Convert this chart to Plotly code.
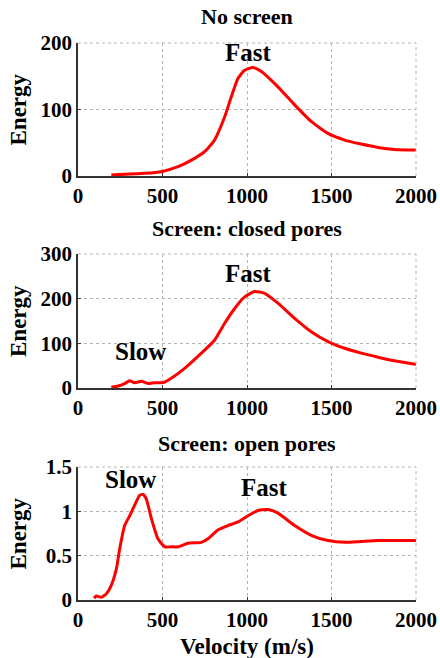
import plotly.graph_objects as go

# Panel 1: No screen
v1 = [197, 394, 493, 592, 690, 749, 808, 868, 907, 947, 986, 1035, 1085, 1183, 1282, 1380,
      1479, 1578, 1676, 1775, 1873, 2000]
e1 = [1.5, 4, 6.5, 14, 26.5, 36.6, 54, 89, 119, 147, 159, 163, 157, 134, 107, 82,
      64, 54, 48, 43, 40, 39]

# Panel 2: Screen, closed pores
v2 = [197, 237, 276, 306, 335, 375, 414, 454, 503, 552, 631, 730, 808, 868, 927, 986, 1045, 1104,
      1183, 1282, 1380, 1479, 1578, 1676, 1775, 1873, 2000]
e2 = [1.5, 4.5, 10, 16, 12, 15, 10, 12, 12, 22, 44, 78, 107, 145, 178, 204, 216, 212,
      190, 156, 126, 104, 89, 78, 69, 61, 53]

# Panel 3: Screen, open pores
v3 = [95, 108, 138, 168, 197, 227, 247, 276, 306, 335, 365, 385, 404, 434, 473, 513, 552, 592,
      651, 730, 769, 828, 887, 947, 1006, 1065, 1124, 1183, 1282, 1380, 1479, 1578, 1676, 1775, 2000]
e3 = [0.02, 0.045, 0.03, 0.07, 0.165, 0.35, 0.58, 0.84, 0.95, 1.07, 1.18, 1.19, 1.14, 0.92, 0.69, 0.6, 0.6, 0.6,
      0.64, 0.65, 0.69, 0.79, 0.84, 0.88, 0.95, 1.01, 1.02, 0.98, 0.84, 0.73, 0.67, 0.65, 0.66, 0.67, 0.67]

titles = ["No screen", "Screen: closed pores", "Screen: open pores"]
x_ticks = [0, 500, 1000, 1500, 2000]
y_ticks = [[0, 100, 200], [0, 100, 200, 300], [0, 0.5, 1, 1.5]]
y_ticklabels = [["0", "100", "200"], ["0", "100", "200", "300"], ["0", "0.5", "1", "1.5"]]
y_ranges = [[0, 200], [0, 300], [0, 1.5]]
peak_labels = [[("Fast", 1008, 186)], [("Fast", 1008, 257), ("Slow", 367, 82)],
               [("Slow", 308, 1.36), ("Fast", 1106, 1.27)]]

W, H = 440, 658
FONT = "Liberation Serif"
boxes = [(43, 176), (254, 388), (467, 600)]
x0, x1 = 78, 416
title_y = [16, 228, 443]

fig = go.Figure()
series = [(v1, e1), (v2, e2), (v3, e3)]
for i, (vx, ey) in enumerate(series):
    n = "" if i == 0 else str(i + 1)
    fig.add_trace(go.Scatter(x=vx, y=ey, mode="lines",
                             line=dict(color="#ff0000", width=3, shape="spline", smoothing=0.5),
                             xaxis="x" + n, yaxis="y" + n, showlegend=False))
    top, bot = boxes[i]
    common = dict(showgrid=True, gridcolor="#b4b4b4", griddash="dot", gridwidth=1, automargin=False,
                  showline=True, linecolor="#333333", linewidth=1.5, ticks="inside", ticklen=3,
                  tickcolor="#333333", zeroline=False,
                  tickfont=dict(family=FONT, size=21, color="black", weight="bold"))
    fig.update_layout(**{
        "xaxis" + n: dict(domain=[x0 / W, x1 / W], range=[0, 2000], tickvals=x_ticks,
                          anchor="y" + n, **common),
        "yaxis" + n: dict(domain=[1 - bot / H, 1 - top / H], range=y_ranges[i], tickvals=y_ticks[i],
                          ticktext=y_ticklabels[i], anchor="x" + n, **common),
    })
    fig.add_shape(type="line", xref="x" + n + " domain", yref="y" + n + " domain", x0=0, x1=1, y0=1, y1=1,
                  line=dict(color="#b4b4b4", width=1, dash="dot"))
    fig.add_shape(type="line", xref="x" + n + " domain", yref="y" + n + " domain", x0=1, x1=1, y0=0, y1=1,
                  line=dict(color="#b4b4b4", width=1, dash="dot"))
    fig.add_annotation(text=titles[i], xref="paper", yref="paper", x=(x0 + x1) / 2 / W, y=1 - title_y[i] / H,
                       showarrow=False, font=dict(family=FONT, size=22, color="black", weight="bold"),
                       xanchor="center", yanchor="middle")
    fig.add_annotation(text="Energy", xref="paper", yref="paper", x=18 / W, y=1 - (top + bot) / 2 / H,
                       textangle=-90, showarrow=False,
                       font=dict(family=FONT, size=23, color="black", weight="bold"),
                       xanchor="center", yanchor="middle")
    for (txt, px, py) in peak_labels[i]:
        fig.add_annotation(text=txt, x=px, y=py, xref="x" + n, yref="y" + n, showarrow=False,
                           font=dict(family=FONT, size=25, color="black", weight="bold"),
                           xanchor="center", yanchor="middle")

fig.add_annotation(text="Velocity (m/s)", xref="paper", yref="paper", x=(x0 + x1) / 2 / W, y=1 - 646 / H,
                   showarrow=False, font=dict(family=FONT, size=23, color="black", weight="bold"),
                   xanchor="center", yanchor="middle")

fig.update_layout(width=W, height=H, margin=dict(l=0, r=0, t=0, b=0),
                  paper_bgcolor="white", plot_bgcolor="white")
fig.write_html("out.html")
